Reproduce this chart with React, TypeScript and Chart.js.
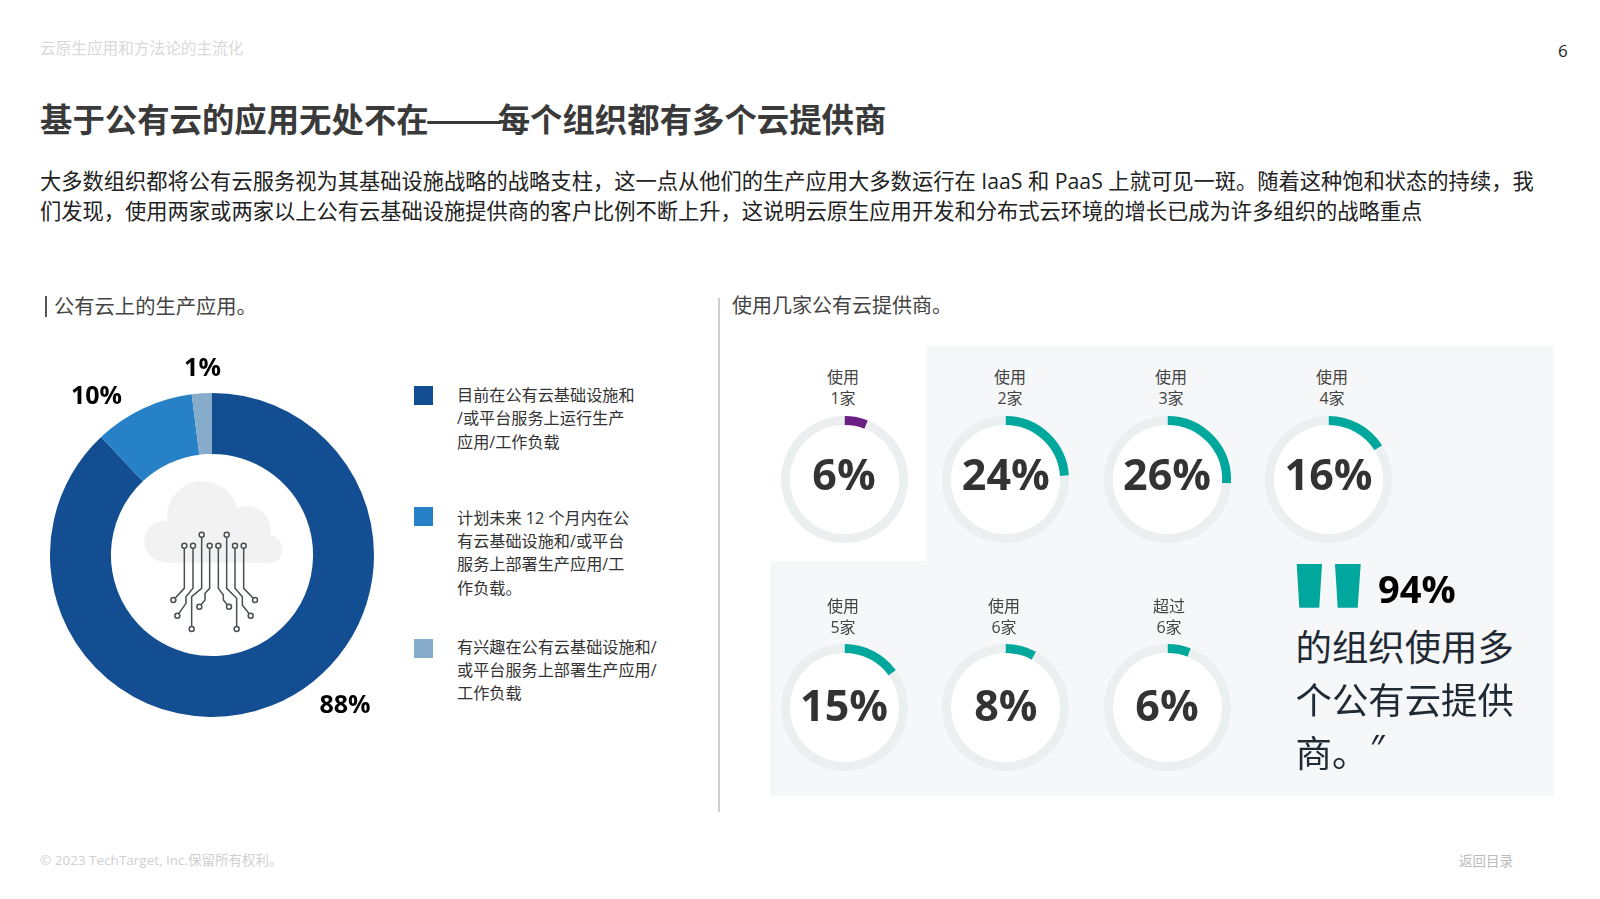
import React, { useEffect, useRef } from "react";
import { Chart, registerables } from "chart.js";

Chart.register(...registerables);

const FONT = '"Open Sans","Noto Sans CJK SC",sans-serif';
const CJK_FIRST = '"Noto Sans CJK SC","Open Sans",sans-serif';

const headerText = "云原生应用和方法论的主流化";
const pageNumber = "6";
const titleParts = ["基于公有云的应用无处不在", "——", "每个组织都有多个云提供商"];
const bodyLines = [
  "大多数组织都将公有云服务视为其基础设施战略的战略支柱，这一点从他们的生产应用大多数运行在 IaaS 和 PaaS 上就可见一斑。随着这种饱和状态的持续，我",
  "们发现，使用两家或两家以上公有云基础设施提供商的客户比例不断上升，这说明云原生应用开发和分布式云环境的增长已成为许多组织的战略重点",
];
const leftHeading = "公有云上的生产应用。";
const rightHeading = "使用几家公有云提供商。";
const footerText = "© 2023 TechTarget, Inc.保留所有权利。";
const backText = "返回目录";

const mainCategories = ["运行", "计划", "有兴趣"];
const mainValues = [88, 10, 2];
const mainLabels = ["88%", "10%", "1%"];
const legendLines = [
  ["目前在公有云基础设施和", "/或平台服务上运行生产", "应用/工作负载"],
  ["计划未来 12 个月内在公", "有云基础设施和/或平台", "服务上部署生产应用/工", "作负载。"],
  ["有兴趣在公有云基础设施和/", "或平台服务上部署生产应用/", "工作负载"],
];
const mainColors = ["#134D92", "#2681C7", "#86ABCB"];

const providerLabelTop = ["使用", "使用", "使用", "使用", "使用", "使用", "超过"];
const providerLabelBottom = ["1家", "2家", "3家", "4家", "5家", "6家", "6家"];
const providerValues = [6, 24, 26, 16, 15, 8, 6];
const providerColors = ["#6A1F82", "#00A79D", "#00A79D", "#00A79D", "#00A79D", "#00A79D", "#00A79D"];
const RING_COLOR = "#EBEFF0";

const quoteValue = "94%";
const quoteLines = ["的组织使用多", "个公有云提供", "商。"];
const quoteClose = "″";

// layout only
const ringCenters = [
  [844, 479.5], [1005.8, 479.5], [1167, 479.5], [1328.5, 479.5],
  [844, 707], [1005.8, 707], [1167, 707],
];
const valueYs = [472.5, 472.5, 472.5, 472.5, 703.5, 703.5, 703.5];
const labelCenters = [
  [843, 377], [1010, 377], [1171, 377], [1332, 377],
  [843, 606], [1004, 606], [1169, 606],
];
const mainLabelPos = [[345, 703], [96.5, 394], [202.5, 366]];
const legendSwatchTops = [386, 507, 639];
const legendLineYs = [
  [395, 418, 442],
  [518, 541, 564, 588],
  [647, 670, 693],
];

const T = ({ x, y, size, color, weight, center, children, style }: any) => (
  <div
    style={{
      position: "absolute",
      left: x,
      top: y,
      transform: center ? "translate(-50%,-50%)" : "translateY(-50%)",
      fontSize: size,
      color,
      fontWeight: weight || 400,
      lineHeight: 1,
      whiteSpace: "pre",
      fontFamily: FONT,
      ...style,
    }}
  >
    {children}
  </div>
);

const whiteHole = {
  id: "whiteHole",
  beforeDatasetsDraw(chart: any) {
    const arc = chart.getDatasetMeta(0).data[0];
    const ctx = chart.ctx;
    ctx.save();
    ctx.fillStyle = "#ffffff";
    ctx.beginPath();
    ctx.arc(arc.x, arc.y, arc.innerRadius, 0, Math.PI * 2);
    ctx.fill();
    ctx.restore();
  },
};

const baseOptions = (cutout: string) => ({
  responsive: false,
  animation: false as const,
  devicePixelRatio: 1,
  cutout,
  layout: { padding: 0 },
  plugins: { legend: { display: false }, tooltip: { enabled: false } },
});

const Ring = ({ value, color, cx, cy }: any) => {
  const ref = useRef<HTMLCanvasElement>(null);
  useEffect(() => {
    const c = new Chart(ref.current!, {
      type: "doughnut",
      data: {
        labels: ["使用", "其他"],
        datasets: [{ data: [value, 100 - value], backgroundColor: [color, RING_COLOR], borderWidth: 0 }],
      },
      options: baseOptions("86%") as any,
      plugins: [whiteHole],
    });
    return () => c.destroy();
  }, []);
  return (
    <canvas
      ref={ref}
      width={127}
      height={127}
      style={{ position: "absolute", left: cx - 63.5, top: cy - 63.5, width: 127, height: 127 }}
    />
  );
};

const MainDonut = () => {
  const ref = useRef<HTMLCanvasElement>(null);
  useEffect(() => {
    const c = new Chart(ref.current!, {
      type: "doughnut",
      data: {
        labels: mainCategories,
        datasets: [{ data: mainValues, backgroundColor: mainColors, borderWidth: 0 }],
      },
      options: baseOptions("62.4%") as any,
    });
    return () => c.destroy();
  }, []);
  return (
    <canvas ref={ref} width={324} height={324} style={{ position: "absolute", left: 50, top: 392.5, width: 324, height: 324 }} />
  );
};

const traces = [
  "M463 617V745L430 780",
  "M489 617V745L468 770V790L442 827",
  "M515 584V745L485 770V867",
  "M539 617V745L525 760V780L508 800",
  "M565 617V745L580 765V780L597 800",
  "M590 584V745L620 775V867",
  "M615 617V745L637 770V795L662 827",
  "M641 617V745L675 780",
];
const traceNodes = [
  [463, 617], [489, 617], [515, 584], [539, 617], [565, 617], [590, 584], [615, 617], [641, 617],
  [430, 780], [442, 827], [485, 867], [508, 800], [597, 800], [620, 867], [662, 827], [675, 780],
];

const CloudIcon = () => (
  <svg viewBox="0 0 1200 1200" width={400} height={400} style={{ position: "absolute", left: 30, top: 340 }}>
    <g fill="#F2F2F2">
      <circle cx="518" cy="530" r="107" />
      <circle cx="650" cy="570" r="72" />
      <circle cx="405" cy="604" r="62" />
      <circle cx="716" cy="628" r="42" />
      <rect x="405" y="600" width="312" height="68" />
    </g>
    <g fill="none" stroke="#4A4F55" strokeWidth="4.5">
      {traces.map((d, i) => <path key={i} d={d} />)}
    </g>
    <g fill="#fff" stroke="#4A4F55" strokeWidth="4.5">
      {traceNodes.map(([x, y], i) => <circle key={i} cx={x} cy={y} r="7.5" />)}
    </g>
  </svg>
);

export default function App() {
  return (
    <div style={{ position: "absolute", left: 0, top: 0, width: 1600, height: 899, background: "#fff", overflow: "hidden" }}>
      <style>{"body{margin:0}"}</style>
      <T x={40} y={49} size={15.65} color="#D9D9D9">{headerText}</T>
      <T x={1558} y={50} size={17} color="#222">{pageNumber}</T>
      <T x={40} y={117.5} size={32.4} color="#3A3A3A" weight={700} style={{ fontFamily: CJK_FIRST }}>
        {titleParts[0]}
        <span style={{ display: "inline-block", width: 73, marginLeft: -4, marginRight: 0, transform: "scaleX(1.42)", transformOrigin: "left center" }}>{titleParts[1]}</span>
        {titleParts[2]}
      </T>
      {bodyLines.map((l, i) => (
        <T key={i} x={40} y={180.5 + i * 30.5} size={21.28} color="#222">{l}</T>
      ))}

      <div style={{ position: "absolute", left: 45, top: 296, width: 2, height: 21, background: "#555" }} />
      <T x={54} y={306} size={20.3} color="#444">{leftHeading}</T>
      <div style={{ position: "absolute", left: 718, top: 298, width: 1.5, height: 514, background: "#CFCFCF" }} />
      <T x={732} y={305.5} size={20} color="#444">{rightHeading}</T>

      <MainDonut />
      <CloudIcon />
      {mainLabels.map((l, i) => (
        <T key={i} x={mainLabelPos[i][0]} y={mainLabelPos[i][1]} size={25} color="#000" weight={700} center>{l}</T>
      ))}
      {legendLines.map((lines, i) => (
        <React.Fragment key={i}>
          <div style={{ position: "absolute", left: 414, top: legendSwatchTops[i], width: 18.5, height: 18.5, background: mainColors[i] }} />
          {lines.map((l, j) => (
            <T key={j} x={457} y={legendLineYs[i][j]} size={16.15} color="#333">{l}</T>
          ))}
        </React.Fragment>
      ))}

      <div style={{ position: "absolute", left: 926, top: 346, width: 628, height: 215, background: "#F5F7F9" }} />
      <div style={{ position: "absolute", left: 770, top: 561, width: 784, height: 235, background: "#F5F7F9" }} />

      {providerValues.map((v, i) => (
        <React.Fragment key={i}>
          <T x={labelCenters[i][0]} y={labelCenters[i][1]} size={16} color="#444" center>{providerLabelTop[i]}</T>
          <T x={labelCenters[i][0]} y={labelCenters[i][1] + 20.5} size={16} color="#444" center>{providerLabelBottom[i]}</T>
          <Ring value={v} color={providerColors[i]} cx={ringCenters[i][0]} cy={ringCenters[i][1]} />
          <T x={ringCenters[i][0]} y={valueYs[i]} size={43} color="#333" weight={700} center>{v + "%"}</T>
        </React.Fragment>
      ))}

      <svg viewBox="0 0 100 50" width={100} height={50} style={{ position: "absolute", left: 1290, top: 560 }}>
        <polygon fill="#00A79D" points="6.7,4 32,4 29.3,47.7 9.3,47.7" />
        <polygon fill="#00A79D" points="45,4 70.7,4 67.7,47.7 47.7,47.7" />
      </svg>
      <T x={1378} y={588} size={38} color="#000" weight={700}>{quoteValue}</T>
      {quoteLines.map((l, i) => (
        <T key={i} x={1295.5} y={646.5 + i * 53} size={36.4} color="#1F2A35">{l}</T>
      ))}
      <T x={1369} y={748} size={36} color="#1F2A35" style={{ fontStyle: "italic" }}>{quoteClose}</T>

      <T x={40} y={861} size={13.5} color="#D0D0D0">{footerText}</T>
      <T x={1486} y={862} size={13.5} color="#BBBBBB" center>{backText}</T>
    </div>
  );
}
